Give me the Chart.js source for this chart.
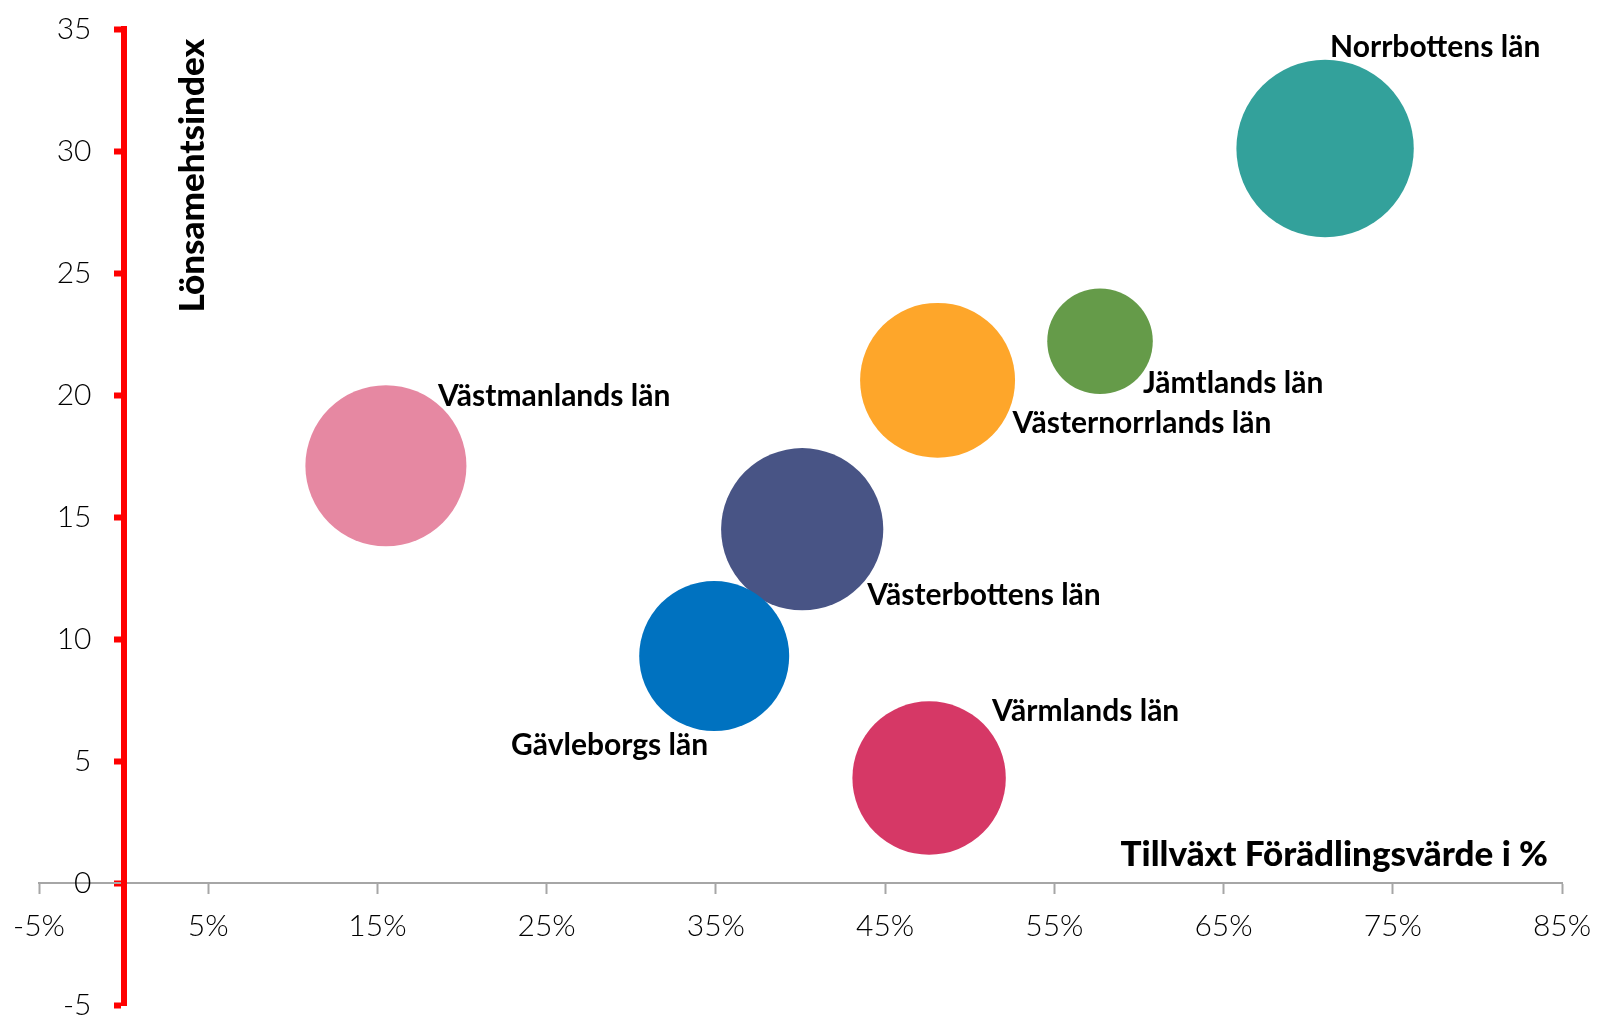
<!DOCTYPE html>
<html>
<head>
<meta charset="utf-8">
<script src="https://cdn.jsdelivr.net/npm/chart.js@4.4.1/dist/chart.umd.min.js"></script>
<style>
  html, body { margin: 0; padding: 0; background: #fff; }
  canvas { display: block; }
</style>
</head>
<body>
<canvas id="bubbles" width="1600" height="1018"></canvas>
<script>
// län, in drawing order (later ones end up on top)
const regions = ['Norrbottens län', 'Jämtlands län', 'Västernorrlands län', 'Västmanlands län',
                 'Västerbottens län', 'Gävleborgs län', 'Värmlands län'];
// Tillväxt förädlingsvärde i %
const growth = [71.0, 57.7, 48.1, 15.5, 40.1, 34.9, 47.6];
// Lönsamhetsindex
const profitIndex = [30.1, 22.2, 20.6, 17.1, 14.5, 9.3, 4.3];
// bubble size, relative (largest = 100)
const bubbleSize = [100, 35.4, 76.3, 82.4, 83.6, 71.5, 74.8];

const xTicks = [-5, 5, 15, 25, 35, 45, 55, 65, 75, 85];
const yTicks = [-5, 0, 5, 10, 15, 20, 25, 30, 35];

const colors = ['#33A19B', '#659B49', '#FEA62A', '#E688A2', '#485485', '#0072C0', '#D63866'];

// where each name sits relative to its bubble: dx, dy (baseline), align
const labelOffsets = [[5, -92, 'left'], [43, 52, 'left'], [75, 53, 'left'], [52, -60, 'left'],
                      [65, 76, 'left'], [-6, 99, 'right'], [63, -57, 'left']];

const MAX_R = 88.7; // radius of the largest bubble, px
const FAMILY = 'Lato, "Open Sans", sans-serif';

const bubbleLabels = {
    id: 'bubbleLabels',
    afterDatasetsDraw(chart) {
        const ctx = chart.ctx;
        const pts = chart.getDatasetMeta(0).data;
        const xs = chart.scales.x, ys = chart.scales.y;
        ctx.save();
        ctx.fillStyle = '#000';
        ctx.textBaseline = 'alphabetic';
        ctx.font = 'bold 30px ' + FAMILY;
        pts.forEach((p, i) => {
            const [dx, dy, align] = labelOffsets[i];
            ctx.textAlign = align;
            ctx.fillText(regions[i], p.x + dx, p.y + dy);
        });

        // axis titles live inside the plot area
        ctx.font = '900 35px ' + FAMILY;
        ctx.textAlign = 'right';
        ctx.fillText('Tillväxt Förädlingsvärde i %', xs.right - 14, ys.getPixelForValue(0) - 17);

        ctx.translate(xs.getPixelForValue(0) + 80, ys.top + 10);
        ctx.rotate(-Math.PI / 2);
        ctx.textAlign = 'right';
        ctx.fillText('Lönsamehtsindex', 0, 0);
        ctx.restore();
    }
};

const points = growth.map((g, i) => ({
    x: g,
    y: profitIndex[i],
    r: MAX_R * Math.sqrt(bubbleSize[i] / 100)
}));

const setTicks = list => s => { s.ticks = list.map(v => ({ value: v })); };

new Chart(document.getElementById('bubbles'), {
    type: 'bubble',
    data: {
        datasets: [{
            label: 'Län',
            data: points,
            backgroundColor: colors,
            borderWidth: 0,
            hoverRadius: 0
        }]
    },
    options: {
        responsive: false,
        animation: false,
        events: [],
        layout: {
            autoPadding: false,
            padding: { left: 39, right: 38, top: 29, bottom: 13 }
        },
        plugins: {
            legend: { display: false },
            tooltip: { enabled: false }
        },
        scales: {
            x: {
                type: 'linear',
                position: { y: 0 },
                min: -5,
                max: 85,
                afterBuildTicks: setTicks(xTicks),
                border: { display: true, color: '#A6A6A6', width: 2 },
                grid: { drawOnChartArea: false, tickLength: 10, tickWidth: 2, tickColor: '#A6A6A6' },
                ticks: {
                    padding: 0,
                    color: '#000',
                    font: { family: FAMILY, size: 30, weight: '300', lineHeight: 2.2 },
                    maxRotation: 0,
                    callback: v => v + '%'
                }
            },
            // the red axis line and its tick marks
            y: {
                type: 'linear',
                position: { x: 0 },
                min: -5,
                max: 35,
                afterBuildTicks: setTicks(yTicks),
                border: { display: true, color: '#FF0000', width: 6 },
                grid: { drawOnChartArea: false, tickLength: 7, tickWidth: 6, tickColor: '#FF0000' },
                ticks: { display: false, padding: 0 }
            },
            // the numbers beside the red axis
            yLabels: {
                type: 'linear',
                axis: 'y',
                position: { x: -1.9 },
                min: -5,
                max: 35,
                afterBuildTicks: setTicks(yTicks),
                border: { display: false },
                grid: { display: false },
                ticks: {
                    padding: 0,
                    color: '#000',
                    font: { family: FAMILY, size: 30, weight: '300', lineHeight: 0.8 }
                }
            }
        }
    },
    plugins: [bubbleLabels]
});
</script>
</body>
</html>
